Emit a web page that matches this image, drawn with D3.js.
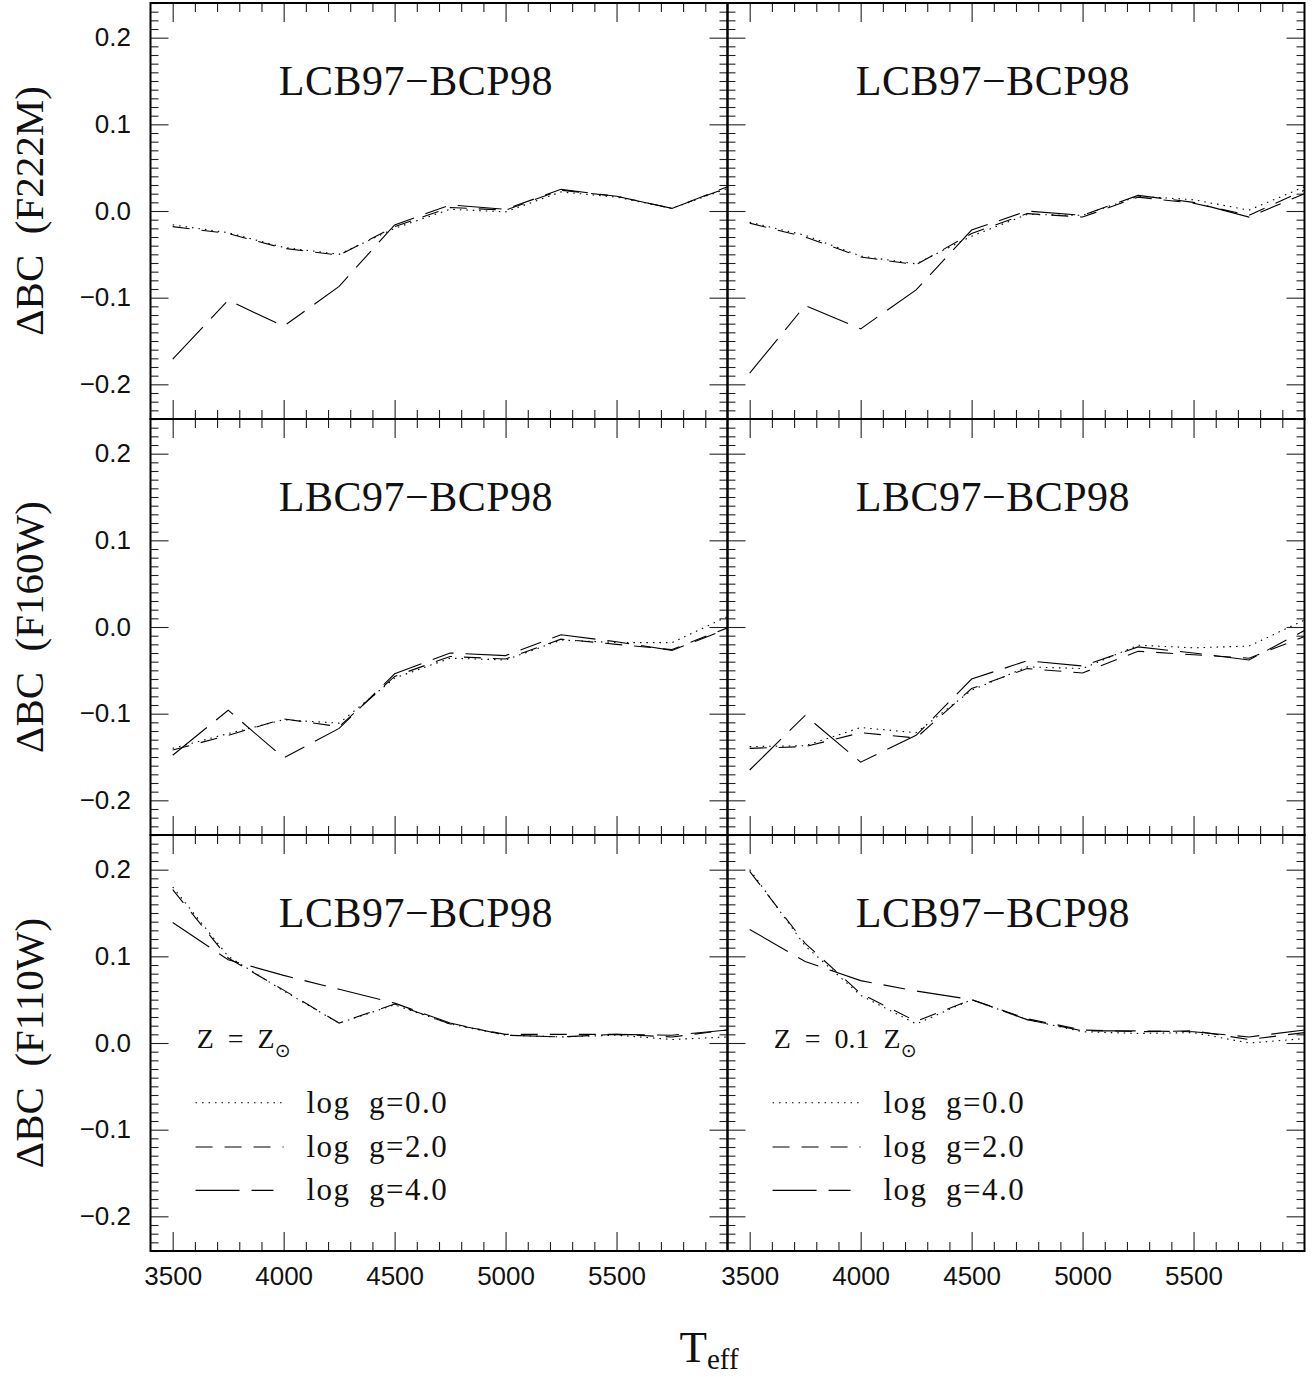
<!DOCTYPE html>
<html>
<head>
<meta charset="utf-8">
<script src="https://cdn.jsdelivr.net/npm/d3@7"></script>
<style>
  html, body { margin: 0; padding: 0; background: #fff; }
  svg { display: block; }
</style>
</head>
<body>
<svg id="chart" width="1316" height="1377"></svg>
<script>
// ---------------- DATA ----------------
const temps = [3500, 3750, 4000, 4250, 4500, 4750, 5000, 5250, 5500, 5750, 6000];
const xTickLabels = [3500, 4000, 4500, 5000, 5500];
const yTickLabels = [-0.2, -0.1, 0.0, 0.1, 0.2];
const rowFilters = ["F222M", "F160W", "F110W"];
const rowTitles = ["LCB97\u2212BCP98", "LBC97\u2212BCP98", "LCB97\u2212BCP98"];
const colMetallicity = ["Z  =  Z", "Z  =  0.1  Z"];
const legendLabels = ["log  g=0.0", "log  g=2.0", "log  g=4.0"];

// F222M, Z = Zsun
const f222m_zsun_g0 = [-0.016, -0.025, -0.042, -0.050, -0.020, 0.002, -0.001, 0.022, 0.016, 0.003, 0.026];
const f222m_zsun_g2 = [-0.018, -0.026, -0.043, -0.051, -0.018, 0.004, 0.001, 0.024, 0.017, 0.003, 0.027];
const f222m_zsun_g4 = [-0.171, -0.103, -0.133, -0.087, -0.016, 0.007, 0.002, 0.025, 0.017, 0.003, 0.028];
// F222M, Z = 0.1 Zsun
const f222m_z01_g0 = [-0.013, -0.028, -0.052, -0.061, -0.029, -0.004, -0.005, 0.017, 0.013, 0.001, 0.028];
const f222m_z01_g2 = [-0.014, -0.030, -0.053, -0.062, -0.026, -0.003, -0.007, 0.016, 0.009, -0.005, 0.024];
const f222m_z01_g4 = [-0.187, -0.109, -0.136, -0.091, -0.022, 0.000, -0.005, 0.018, 0.010, -0.007, 0.020];
// F160W, Z = Zsun
const f160w_zsun_g0 = [-0.140, -0.123, -0.107, -0.111, -0.059, -0.036, -0.038, -0.015, -0.018, -0.018, 0.012];
const f160w_zsun_g2 = [-0.142, -0.125, -0.106, -0.115, -0.057, -0.034, -0.037, -0.014, -0.020, -0.026, -0.001];
const f160w_zsun_g4 = [-0.148, -0.096, -0.151, -0.117, -0.054, -0.030, -0.033, -0.009, -0.017, -0.027, -0.002];
// F160W, Z = 0.1 Zsun
const f160w_z01_g0 = [-0.138, -0.137, -0.116, -0.122, -0.073, -0.046, -0.048, -0.021, -0.024, -0.022, 0.008];
const f160w_z01_g2 = [-0.140, -0.138, -0.122, -0.128, -0.071, -0.048, -0.053, -0.028, -0.032, -0.036, -0.011];
const f160w_z01_g4 = [-0.165, -0.102, -0.156, -0.125, -0.060, -0.039, -0.045, -0.023, -0.030, -0.038, -0.004];
// F110W, Z = Zsun
const f110w_zsun_g0 = [0.180, 0.100, 0.060, 0.023, 0.044, 0.022, 0.009, 0.007, 0.009, 0.004, 0.007];
const f110w_zsun_g2 = [0.177, 0.098, 0.061, 0.023, 0.045, 0.022, 0.010, 0.010, 0.010, 0.007, 0.015];
const f110w_zsun_g4 = [0.139, 0.096, 0.078, 0.062, 0.046, 0.023, 0.009, 0.007, 0.010, 0.009, 0.015];
// F110W, Z = 0.1 Zsun
const f110w_z01_g0 = [0.200, 0.112, 0.055, 0.022, 0.050, 0.027, 0.013, 0.011, 0.012, 0.000, 0.005];
const f110w_z01_g2 = [0.198, 0.115, 0.057, 0.025, 0.050, 0.028, 0.015, 0.013, 0.014, 0.004, 0.012];
const f110w_z01_g4 = [0.131, 0.094, 0.072, 0.060, 0.050, 0.027, 0.014, 0.014, 0.013, 0.007, 0.015];

// panel grid: [row][col] -> [g0, g2, g4]
const panelSeries = [
  [[f222m_zsun_g0, f222m_zsun_g2, f222m_zsun_g4], [f222m_z01_g0, f222m_z01_g2, f222m_z01_g4]],
  [[f160w_zsun_g0, f160w_zsun_g2, f160w_zsun_g4], [f160w_z01_g0, f160w_z01_g2, f160w_z01_g4]],
  [[f110w_zsun_g0, f110w_zsun_g2, f110w_zsun_g4], [f110w_z01_g0, f110w_z01_g2, f110w_z01_g4]]
];

// ---------------- LAYOUT / STYLE ----------------
const colX0 = [150.5, 727.5];
const panelW = 577;
const rowY0 = [3, 419, 835];
const panelH = 416;
const xDomain = [3400, 6000];
const yDomain = [-0.24, 0.24];
const dashes = ["1.5 5", "17 12", "44 12 22 12"];
const serif = "'Liberation Serif', 'Times New Roman', serif";
const sans = "'Liberation Sans', Arial, sans-serif";
const textCol = "#111";

const svg = d3.select("#chart");
const fmtY = v => (v < 0 ? "\u2212" : "") + Math.abs(v).toFixed(1);

const minorX = d3.range(3500, 6000, 100).filter(v => v % 500 !== 0);
const majorX = d3.range(3500, 6000, 500);
const minorY = d3.range(-24, 25, 1).map(v => v / 100).filter(v => Math.round(v * 100) % 10 !== 0);
const majorY = [-0.2, -0.1, 0, 0.1, 0.2];

function styleAxis(g) {
  g.select(".domain").remove();
  g.selectAll(".tick line").attr("stroke", "#222").attr("stroke-width", 1.1);
}

for (let r = 0; r < 3; r++) {
  for (let c = 0; c < 2; c++) {
    const x = d3.scaleLinear().domain(xDomain).range([colX0[c], colX0[c] + panelW]);
    const y = d3.scaleLinear().domain(yDomain).range([rowY0[r] + panelH, rowY0[r]]);
    const g = svg.append("g");

    // ticks (inward) on all four sides
    const x0 = colX0[c], x1 = colX0[c] + panelW, y0 = rowY0[r], y1 = rowY0[r] + panelH;
    g.append("g").attr("transform", `translate(0,${y1})`)
      .call(d3.axisBottom(x).tickValues(minorX).tickSize(-9).tickFormat("")).call(styleAxis);
    const bAx = g.append("g").attr("transform", `translate(0,${y1})`)
      .call(d3.axisBottom(x).tickValues(majorX).tickSize(-19).tickPadding(16)
        .tickFormat(r === 2 ? (d, i) => String(xTickLabels[i]) : "")).call(styleAxis);
    bAx.selectAll("text").attr("font-family", sans).attr("font-size", 26).attr("fill", textCol);
    g.append("g").attr("transform", `translate(0,${y0})`)
      .call(d3.axisTop(x).tickValues(minorX).tickSize(-9).tickFormat("")).call(styleAxis);
    g.append("g").attr("transform", `translate(0,${y0})`)
      .call(d3.axisTop(x).tickValues(majorX).tickSize(-19).tickFormat("")).call(styleAxis);

    g.append("g").attr("transform", `translate(${x0},0)`)
      .call(d3.axisLeft(y).tickValues(minorY).tickSize(-8).tickFormat("")).call(styleAxis);
    const lAx = g.append("g").attr("transform", `translate(${x0},0)`)
      .call(d3.axisLeft(y).tickValues(majorY).tickSize(-18).tickPadding(19.5)
        .tickFormat(c === 0 ? (d, i) => fmtY(yTickLabels[i]) : "")).call(styleAxis);
    lAx.selectAll("text").attr("font-family", sans).attr("font-size", 26).attr("fill", textCol);
    g.append("g").attr("transform", `translate(${x1},0)`)
      .call(d3.axisRight(y).tickValues(minorY).tickSize(-8).tickFormat("")).call(styleAxis);
    g.append("g").attr("transform", `translate(${x1},0)`)
      .call(d3.axisRight(y).tickValues(majorY).tickSize(-18).tickFormat("")).call(styleAxis);

    // data lines
    const line = d3.line().x((d, i) => x(temps[i])).y(d => y(d));
    panelSeries[r][c].forEach((s, k) => {
      g.append("path").datum(s).attr("d", line)
        .attr("fill", "none").attr("stroke", "#000").attr("stroke-width", 1.1)
        .attr("stroke-dasharray", dashes[k]);
    });

    // panel title
    g.append("text").attr("x", x(4596)).attr("y", y(0.134))
      .attr("text-anchor", "middle").attr("font-family", serif).attr("font-size", 42)
      .attr("fill", textCol).attr("letter-spacing", 0.5)
      .text(rowTitles[r]);

    if (r === 2) {
      // metallicity annotation
      const t = g.append("text").attr("x", x(3608)).attr("y", y(-0.006))
        .attr("font-family", serif).attr("font-size", 28).attr("fill", textCol)
        .style("white-space", "pre");
      t.append("tspan").text(colMetallicity[c]);
      t.append("tspan").attr("font-family", "'DejaVu Sans', sans-serif").attr("font-size", 19)
        .attr("dy", 9).attr("dx", 0).text("\u2299");

      // legend
      const rowsY = [-0.069, -0.120, -0.170];
      legendLabels.forEach((lab, k) => {
        g.append("line").attr("x1", x(3603)).attr("x2", x(4000))
          .attr("y1", y(rowsY[k])).attr("y2", y(rowsY[k]))
          .attr("stroke", "#000").attr("stroke-width", 1.1).attr("stroke-dasharray", dashes[k]);
        g.append("text").attr("x", x(4103)).attr("y", y(rowsY[k]) + 10)
          .attr("font-family", serif).attr("font-size", 31).attr("fill", textCol)
          .attr("letter-spacing", 1.5).style("white-space", "pre")
          .text(lab);
      });
    }

    // frame
    g.append("rect").attr("x", x0).attr("y", y0).attr("width", panelW).attr("height", panelH)
      .attr("fill", "none").attr("stroke", "#000").attr("stroke-width", 2);
  }

  // y-axis label
  svg.append("text")
    .attr("transform", `translate(43,${rowY0[r] + panelH / 2}) rotate(-90)`)
    .attr("text-anchor", "middle").attr("font-family", serif).attr("font-size", 41)
    .attr("fill", textCol).style("white-space", "pre")
    .text("\u0394BC  (" + rowFilters[r] + ")");
}

// x-axis label
const xl = svg.append("text").attr("x", 709).attr("y", 1362)
  .attr("text-anchor", "middle").attr("font-family", serif).attr("font-size", 45).attr("fill", textCol);
xl.append("tspan").text("T");
xl.append("tspan").attr("font-size", 29).attr("dy", 7).text("eff");
</script>
</body>
</html>
